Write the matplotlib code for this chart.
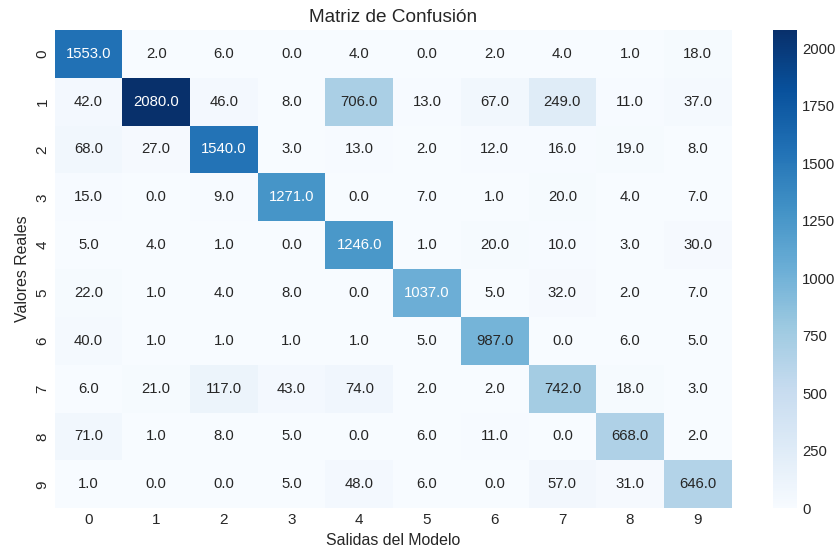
import numpy as np
import matplotlib
matplotlib.use("Agg")
import matplotlib.pyplot as plt
import seaborn as sns

# confusion matrix values
clases = ["0", "1", "2", "3", "4", "5", "6", "7", "8", "9"]
fila_0 = [1553, 2, 6, 0, 4, 0, 2, 4, 1, 18]
fila_1 = [42, 2080, 46, 8, 706, 13, 67, 249, 11, 37]
fila_2 = [68, 27, 1540, 3, 13, 2, 12, 16, 19, 8]
fila_3 = [15, 0, 9, 1271, 0, 7, 1, 20, 4, 7]
fila_4 = [5, 4, 1, 0, 1246, 1, 20, 10, 3, 30]
fila_5 = [22, 1, 4, 8, 0, 1037, 5, 32, 2, 7]
fila_6 = [40, 1, 1, 1, 1, 5, 987, 0, 6, 5]
fila_7 = [6, 21, 117, 43, 74, 2, 2, 742, 18, 3]
fila_8 = [71, 1, 8, 5, 0, 6, 11, 0, 668, 2]
fila_9 = [1, 0, 0, 5, 48, 6, 0, 57, 31, 646]

matriz = np.array([fila_0, fila_1, fila_2, fila_3, fila_4,
                   fila_5, fila_6, fila_7, fila_8, fila_9], dtype=float)

sns.set_style("whitegrid")
plt.rcParams['font.family'] = ['Liberation Sans', 'DejaVu Sans']

fig = plt.figure(figsize=(8.4, 5.53), dpi=100)
ax = fig.add_axes([0.065, 0.081, 0.806, 0.865])
cax = fig.add_axes([0.920, 0.081, 0.029, 0.865])

sns.heatmap(matriz, annot=True, fmt=".1f", cmap="Blues", ax=ax, cbar_ax=cax,
            xticklabels=clases, yticklabels=clases,
            annot_kws={"size": 10.7})

ax.set_title("Matriz de Confusión", fontsize=13.7)
ax.set_xlabel("Salidas del Modelo", fontsize=11.4)
ax.set_ylabel("Valores Reales", fontsize=11.4)
ax.tick_params(axis="both", labelsize=11, length=0)
plt.setp(ax.get_yticklabels(), rotation=90, va="center")
cax.tick_params(labelsize=10.7, length=0)
cax.set_yticks([0, 250, 500, 750, 1000, 1250, 1500, 1750, 2000])

fig.savefig("out.png", dpi=100)
